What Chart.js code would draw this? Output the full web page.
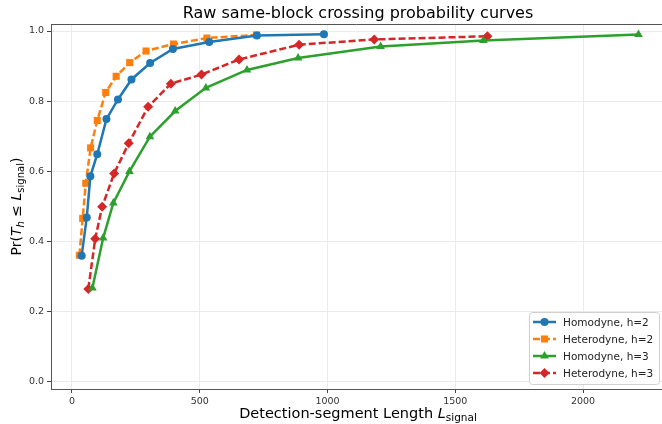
<!DOCTYPE html>
<html>
<head>
<meta charset="utf-8">
<script src="https://cdn.jsdelivr.net/npm/chart.js@4.4.1/dist/chart.umd.min.js"></script>
<style>
  html, body { margin: 0; padding: 0; background: #fff; overflow: hidden; }
  canvas { display: block; }
</style>
</head>
<body>
<canvas id="chart-crossing" width="662" height="424"></canvas>
<script>
// Data
const homoH2_L = [38, 58, 72, 99, 135, 180, 233, 306, 395, 537, 724, 986];
const homoH2_P = [0.360, 0.469, 0.586, 0.649, 0.749, 0.805, 0.862, 0.909, 0.949, 0.969, 0.987, 0.991];

const heteroH2_L = [29, 42, 54, 73, 99, 132, 173, 226, 290, 397, 528, 722];
const heteroH2_P = [0.361, 0.466, 0.566, 0.667, 0.745, 0.825, 0.871, 0.910, 0.943, 0.963, 0.980, 0.989];

const homoH3_L = [80, 122, 162, 225, 305, 404, 524, 685, 885, 1208, 1610, 2217];
const homoH3_P = [0.268, 0.410, 0.510, 0.600, 0.699, 0.772, 0.838, 0.889, 0.923, 0.956, 0.973, 0.990];

const heteroH3_L = [64, 91, 118, 165, 222, 298, 387, 507, 654, 889, 1183, 1626];
const heteroH3_P = [0.265, 0.408, 0.499, 0.594, 0.680, 0.784, 0.850, 0.876, 0.919, 0.961, 0.976, 0.985];

const xTicks = [0, 500, 1000, 1500, 2000];
const yTicks = [0.0, 0.2, 0.4, 0.6, 0.8, 1.0];

const FONT = "'DejaVu Sans', sans-serif";

function pts(xs, ys) {
    return xs.map((x, i) => ({ x: x, y: ys[i] }));
}

function series(label, xs, ys, color, style, dashed) {
    const r = { circle: 4, rect: 5, triangle: 5, rectRot: 5 }[style];
    return {
        label: label,
        data: pts(xs, ys),
        borderColor: color,
        backgroundColor: color,
        borderWidth: 2.5,
        borderDash: dashed ? [7, 3] : [],
        pointStyle: style,
        pointRadius: r,
        pointBorderWidth: 0,
        pointHoverRadius: r,
        tension: 0,
        fill: false,
    };
}

// Frame, titles and legend drawn like the matplotlib figure
const extras = {
    id: "extras",
    afterDraw(chart) {
        const ctx = chart.ctx;
        const a = chart.chartArea;
        ctx.save();

        // top spine (right spine falls outside the picture)
        ctx.strokeStyle = "#555";
        ctx.lineWidth = 1;
        ctx.beginPath();
        ctx.moveTo(a.left, a.top + 0.5);
        ctx.lineTo(a.right, a.top + 0.5);
        ctx.stroke();

        // title
        ctx.fillStyle = "#000";
        ctx.textAlign = "center";
        ctx.textBaseline = "middle";
        ctx.font = "16px " + FONT;
        ctx.fillText("Raw same-block crossing probability curves", 358, 14);

        // x axis title with subscript
        const xMain = "Detection-segment Length ";
        const xSub = "signal";
        ctx.font = "14.5px " + FONT;
        const w1 = ctx.measureText(xMain).width;
        ctx.font = "italic 14.5px " + FONT;
        const wL = ctx.measureText("L").width;
        ctx.font = "10.5px " + FONT;
        const wS = ctx.measureText(xSub).width;
        let x0 = 358 - (w1 + wL + wS) / 2;
        const yb = 413;
        ctx.textAlign = "left";
        ctx.textBaseline = "alphabetic";
        ctx.font = "14.5px " + FONT;
        ctx.fillText(xMain, x0, yb + 5);
        ctx.font = "italic 14.5px " + FONT;
        ctx.fillText("L", x0 + w1, yb + 5);
        ctx.font = "10.5px " + FONT;
        ctx.fillText(xSub, x0 + w1 + wL, yb + 8);

        // y axis title, rotated
        ctx.save();
        ctx.translate(21, (a.top + a.bottom) / 2);
        ctx.rotate(-Math.PI / 2);
        const parts = [
            ["Pr(", "14px", 0],
            ["T", "italic 14px", 0],
            ["h", "italic 10px", 3],
            [" \u2264 ", "14px", 0],
            ["L", "italic 14px", 0],
            ["signal", "10px", 3],
            [")", "14px", 0],
        ];
        let total = 0;
        parts.forEach(p => { ctx.font = p[1] + " " + FONT; total += ctx.measureText(p[0]).width; });
        let px = -total / 2;
        parts.forEach(p => {
            ctx.font = p[1] + " " + FONT;
            ctx.fillText(p[0], px, 0 + p[2]);
            px += ctx.measureText(p[0]).width;
        });
        ctx.restore();

        // legend, lower right inside plot
        const lx = 529, ly = 312, lw = 130, lh = 72;
        ctx.fillStyle = "rgba(255,255,255,0.85)";
        ctx.strokeStyle = "#d0d0d0";
        ctx.lineWidth = 1;
        ctx.beginPath();
        ctx.roundRect(lx + 0.5, ly + 0.5, lw, lh, 3);
        ctx.fill();
        ctx.stroke();
        chart.data.datasets.forEach((ds, i) => {
            const yy = ly + 10 + i * 17;
            ctx.strokeStyle = ds.borderColor;
            ctx.lineWidth = 2.5;
            ctx.setLineDash(ds.borderDash);
            ctx.beginPath();
            ctx.moveTo(lx + 4, yy);
            ctx.lineTo(lx + 27, yy);
            ctx.stroke();
            ctx.setLineDash([]);
            ctx.fillStyle = ds.borderColor;
            Chart.helpers.drawPoint(ctx, {
                pointStyle: ds.pointStyle,
                radius: ds.pointRadius,
                borderWidth: 0,
                rotation: 0,
            }, lx + 15.5, yy);
            ctx.fillStyle = "#222";
            ctx.font = "10.5px " + FONT;
            ctx.textBaseline = "middle";
            ctx.textAlign = "left";
            ctx.fillText(ds.label, lx + 34, yy + 1);
        });

        ctx.restore();
    },
};

const crossing = document.getElementById("chart-crossing");

new Chart(crossing, {
    type: "line",
    data: {
        datasets: [
            series("Homodyne, h=2", homoH2_L, homoH2_P, "#1f77b4", "circle", false),
            series("Heterodyne, h=2", heteroH2_L, heteroH2_P, "#ff7f0e", "rect", true),
            series("Homodyne, h=3", homoH3_L, homoH3_P, "#2ca02c", "triangle", false),
            series("Heterodyne, h=3", heteroH3_L, heteroH3_P, "#d62728", "rectRot", true),
        ],
    },
    plugins: [extras],
    options: {
        responsive: false,
        devicePixelRatio: 1,
        animation: false,
        layout: {
            autoPadding: false,
            padding: { left: 0, right: 0, top: 24, bottom: 0 },
        },
        scales: {
            x: {
                type: "linear",
                min: -82,
                max: 2309,
                afterBuildTicks: (scale) => {
                    scale.ticks = xTicks.map(v => ({ value: v }));
                },
                afterFit: (scale) => {
                    scale.height = 35;
                    scale.paddingLeft = 0;
                    scale.paddingRight = 0;
                },
                ticks: {
                    font: { family: FONT, size: 9.5 },
                    color: "#333",
                    padding: 3,
                    maxRotation: 0,
                    callback: (v) => String(v),
                },
                grid: {
                    color: "#ebebeb",
                    tickColor: "#444",
                    tickLength: 4,
                    drawTicks: true,
                },
                border: { color: "#555", width: 1 },
            },
            y: {
                type: "linear",
                min: -0.02,
                max: 1.02,
                afterBuildTicks: (scale) => {
                    scale.ticks = yTicks.map(v => ({ value: v }));
                },
                afterFit: (scale) => {
                    scale.width = 51;
                    scale.paddingTop = 0;
                    scale.paddingBottom = 0;
                },
                ticks: {
                    font: { family: FONT, size: 9.5 },
                    color: "#333",
                    padding: 3,
                    callback: (v) => v.toFixed(1),
                },
                grid: {
                    color: "#ebebeb",
                    tickColor: "#444",
                    tickLength: 4,
                    drawTicks: true,
                },
                border: { color: "#555", width: 1 },
            },
        },
        plugins: {
            legend: { display: false },
            title: { display: false },
            tooltip: { enabled: false },
        },
    },
});
</script>
</body>
</html>
